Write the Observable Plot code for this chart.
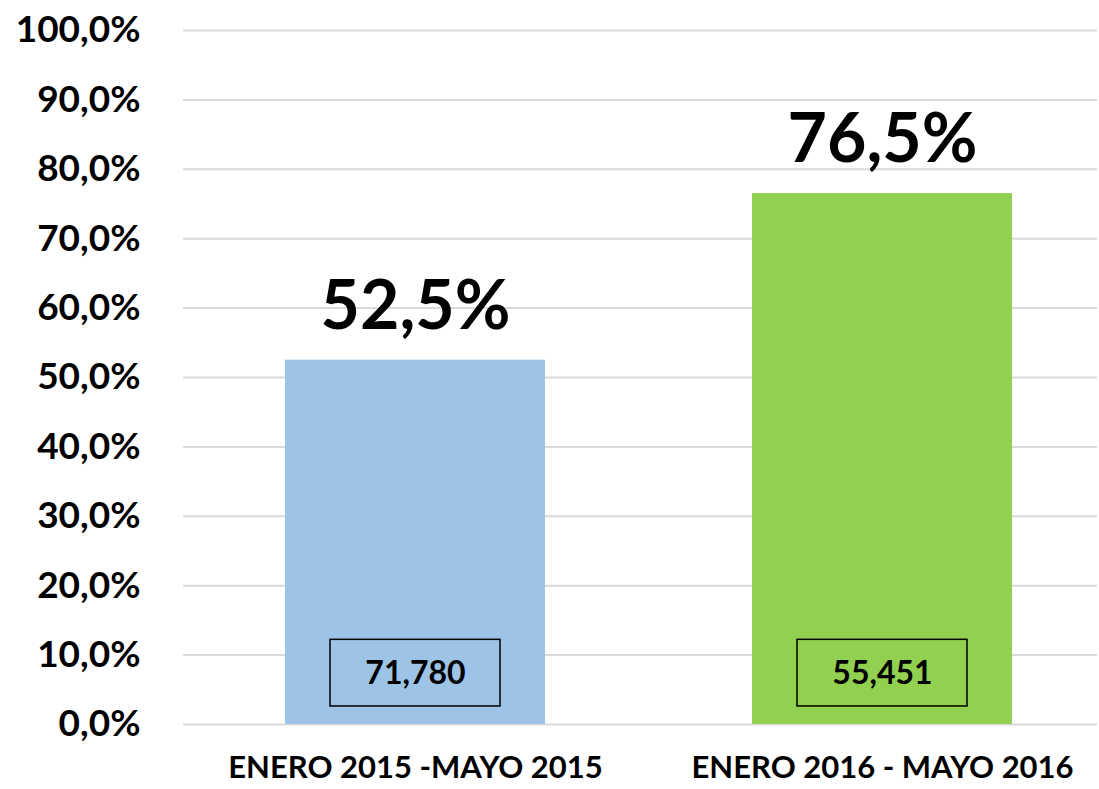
<!DOCTYPE html>
<html>
<head>
<meta charset="utf-8">
<script src="https://cdn.jsdelivr.net/npm/d3@7"></script>
<script src="https://cdn.jsdelivr.net/npm/@observablehq/plot@0.6"></script>
<style>
  body { margin: 0; background: #fff; }
  #chart svg { display: block; }
</style>
</head>
<body>
<div id="chart"></div>
<script>
const periods = ["ENERO 2015 -MAYO 2015", "ENERO 2016 - MAYO 2016"];
const shares = [0.525, 0.765];
const counts = ["71,780", "55,451"];
const colors = ["#9DC3E6", "#92D050"];
const yTicks = [0, 0.1, 0.2, 0.3, 0.4, 0.5, 0.6, 0.7, 0.8, 0.9, 1.0];

const data = periods.map((p, i) => ({period: p, share: shares[i], count: counts[i], color: colors[i]}));
const pct = d => (d * 100).toFixed(1).replace(".", ",") + "%";
const font = "Lato, 'Open Sans', sans-serif";

const chart = Plot.plot({
  width: 1099,
  height: 789,
  marginLeft: 183,
  marginRight: 2,
  marginTop: 30,
  marginBottom: 65,
  style: {fontFamily: font, fontWeight: "bold", color: "#000", background: "#fff"},
  x: {domain: periods, range: [78, 1219], padding: 0.443, label: null},
  y: {domain: [0, 1], label: null},
  marks: [
    Plot.ruleY(yTicks, {stroke: "#d9d9d9", strokeWidth: 2}),
    Plot.barY(data, {x: "period", y: "share", fill: "color"}),
    Plot.barY(data, {x: "period", y1: 0.026, y2: 0.122, fill: "none", stroke: "#000", strokeWidth: 1.5, insetLeft: 45, insetRight: 45}),
    Plot.text(data, {x: "period", y: 0.0735, text: "count", fontSize: 32, fontWeight: "bold", fill: "#000"}),
    Plot.text(data, {x: "period", y: "share", text: d => pct(d.share), dy: -53, fontSize: 68, fontWeight: "bold", fill: "#000"}),
    Plot.axisY({ticks: yTicks, tickFormat: pct, tickSize: 0, tickPadding: 43, fontSize: 37, fontWeight: "bold", label: null}),
    Plot.axisX({tickSize: 0, tickPadding: 31, fontSize: 31, fontWeight: "bold", label: null})
  ]
});
document.getElementById("chart").append(chart);
</script>
</body>
</html>
